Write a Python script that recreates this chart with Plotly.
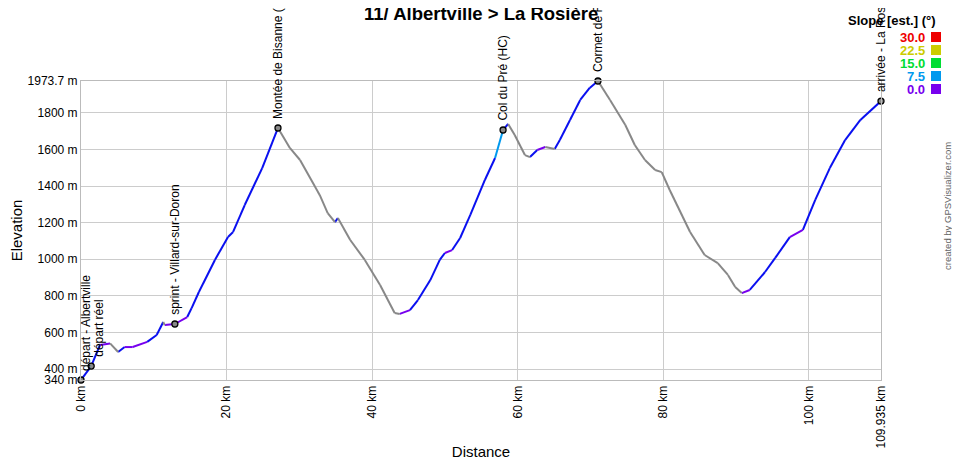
import math
import plotly.graph_objects as go

# ---- data ----
dist_km = [0.0, 1.4, 2.6, 4.0, 5.1, 6.0, 7.1, 9.1, 10.4, 11.3, 11.5, 12.9, 14.6, 15.2, 16.2,
           18.4, 20.2, 20.9, 22.5, 24.9, 27.07, 28.7, 30.1, 32.8, 33.9, 34.9, 35.3, 37.0, 39.0,
           41.1, 43.1, 43.8, 45.2, 46.3, 48.0, 49.3, 50.0, 51.0, 52.1, 53.5, 55.5, 56.9, 58.0,
           58.7, 59.6, 61.0, 61.7, 62.7, 63.8, 65.1, 65.8, 67.2, 68.6, 69.9, 71.04, 72.7, 74.8,
           76.1, 77.5, 78.9, 79.8, 80.9, 83.7, 85.7, 87.5, 88.9, 89.9, 90.8, 91.9, 94.0, 95.4,
           97.4, 99.2, 100.9, 102.9, 105.0, 107.1, 109.935]
elev_m = [340, 416, 531, 540, 493, 520, 520, 548, 586, 657, 640, 646, 684, 733, 821,
          996, 1121, 1149, 1296, 1498, 1717, 1608, 1542, 1351, 1252, 1203, 1225, 1105, 996,
          859, 706, 701, 722, 777, 886, 996, 1034, 1050, 1116, 1242, 1433, 1553, 1706,
          1739, 1679, 1569, 1558, 1597, 1613, 1602, 1651, 1761, 1870, 1936, 1973.7, 1870, 1733,
          1624, 1542, 1487, 1476, 1378, 1149, 1023, 979, 914, 848, 815, 832, 930, 1007,
          1121, 1160, 1324, 1498, 1651, 1761, 1864]

wpt_km = [0.0, 1.4, 12.9, 27.07, 58.0, 71.04, 109.935]
wpt_elev = [340, 416, 646, 1717, 1706, 1973.7, 1864]
wpt_name = ["départ - Albertville", "départ réel", "sprint - Villard-sur-Doron",
            "Montée de Bisanne (HC)", "Col du Pré (HC)", "Cormet de Roselend",
            "arrivée - La Rosière"]

y_tickvals = [340, 400, 600, 800, 1000, 1200, 1400, 1600, 1800, 1973.7]
y_ticktext = ["340 m", "400 m", "600 m", "800 m", "1000 m", "1200 m", "1400 m",
              "1600 m", "1800 m", "1973.7 m"]
x_tickvals = [0, 20, 40, 60, 80, 100, 109.935]
x_ticktext = ["0 km", "20 km", "40 km", "60 km", "80 km", "100 km", "109.935 km"]

legend_vals = ["30.0", "22.5", "15.0", "7.5", "0.0"]
legend_cols = ["#ee0000", "#cccc00", "#00dd33", "#0099ee", "#7700ee"]

FONT = "Liberation Sans, Arial, sans-serif"

# ---- colour segments by slope ----
def seg_color(d0, d1, e0, e1):
    deg = math.degrees(math.atan2(e1 - e0, (d1 - d0) * 1000.0))
    if deg < 0:
        return "#888888"
    if deg < 1.5:
        return "#7700ee"
    if deg < 6.0:
        return "#0a10f0"
    if deg < 9.0:
        return "#0099ee"
    return "#00ccdd"

groups = {}
for i in range(len(dist_km) - 1):
    c = seg_color(dist_km[i], dist_km[i + 1], elev_m[i], elev_m[i + 1])
    gx, gy = groups.setdefault(c, ([], []))
    gx += [dist_km[i], dist_km[i + 1], None]
    gy += [elev_m[i], elev_m[i + 1], None]

fig = go.Figure()
for c, (gx, gy) in groups.items():
    fig.add_trace(go.Scatter(x=gx, y=gy, mode="lines", line=dict(color=c, width=2),
                             hoverinfo="skip", showlegend=False))

fig.add_trace(go.Scatter(x=wpt_km, y=wpt_elev, mode="markers",
                         marker=dict(symbol="circle", size=6, color="#888888",
                                     line=dict(color="#000000", width=1.3)),
                         text=wpt_name, showlegend=False, cliponaxis=False))

xshifts = [5, 7, 0, 0, 0, 0, 0]
for k, n in enumerate(wpt_name):
    fig.add_annotation(x=wpt_km[k], y=wpt_elev[k], text=n, textangle=-90, showarrow=False,
                       xanchor="center", yanchor="bottom", yshift=7, xshift=xshifts[k],
                       font=dict(family=FONT, size=12, color="#000000"))

# page pixel -> paper coordinates (plot area spans page x 81..881, y 81..380)
def px_x(px):
    return (px - 81) / 800.0

def px_y(py):
    return (380 - py) / 299.0

# title
fig.add_annotation(xref="paper", yref="paper", x=px_x(481), y=px_y(14),
                   text="<b>11/ Albertville > La Rosière</b>", showarrow=False,
                   xanchor="center", yanchor="middle",
                   font=dict(family=FONT, size=18.5, color="#000000"))

# slope legend
fig.add_annotation(xref="paper", yref="paper", x=px_x(938), y=px_y(21),
                   text="<b>Slope [est.] (°)</b>", showarrow=False,
                   xanchor="right", yanchor="middle",
                   font=dict(family=FONT, size=13, color="#000000"))
for k, (v, c) in enumerate(zip(legend_vals, legend_cols)):
    yc = 37 + 13.0 * k
    fig.add_annotation(xref="paper", yref="paper", x=px_x(927), y=px_y(yc),
                       text="<b>%s</b>" % v, showarrow=False, xanchor="right",
                       yanchor="middle", font=dict(family=FONT, size=13, color=c))
    fig.add_shape(type="rect", xref="paper", yref="paper",
                  x0=px_x(931), x1=px_x(941), y0=px_y(yc + 5), y1=px_y(yc - 5),
                  fillcolor=c, line=dict(width=0))

# credit
fig.add_annotation(xref="paper", yref="paper", x=px_x(947), y=px_y(206),
                   text="created by GPSVisualizer.com", textangle=-90, showarrow=False,
                   xanchor="center", yanchor="middle",
                   font=dict(family=FONT, size=9.5, color="#666666"))

# the page body adds an 8 px offset, so the figure is 8 px smaller and margins shifted
fig.update_layout(
    width=952, height=452,
    margin=dict(l=73, r=79, t=73, b=80, autoexpand=False),
    paper_bgcolor="#ffffff", plot_bgcolor="#ffffff",
    font=dict(family=FONT, size=12, color="#000000"),
    xaxis=dict(range=[0, 109.935], tickvals=x_tickvals, ticktext=x_ticktext,
               tickangle=-90, showgrid=True, gridcolor="#cccccc", gridwidth=1,
               showline=True, linecolor="#bbbbbb", mirror=True, zeroline=False,
               ticks="", tickfont=dict(family=FONT, size=12), automargin=False,
               title=dict(text="Distance", font=dict(family=FONT, size=15), standoff=8)),
    yaxis=dict(range=[340, 1973.7], tickvals=y_tickvals, ticktext=y_ticktext,
               showgrid=True, gridcolor="#cccccc", gridwidth=1,
               showline=True, linecolor="#bbbbbb", mirror=True, zeroline=False,
               ticks="", tickfont=dict(family=FONT, size=12), automargin=False,
               title=dict(text="Elevation", font=dict(family=FONT, size=15), standoff=6)),
)

fig.write_html("out.html")
